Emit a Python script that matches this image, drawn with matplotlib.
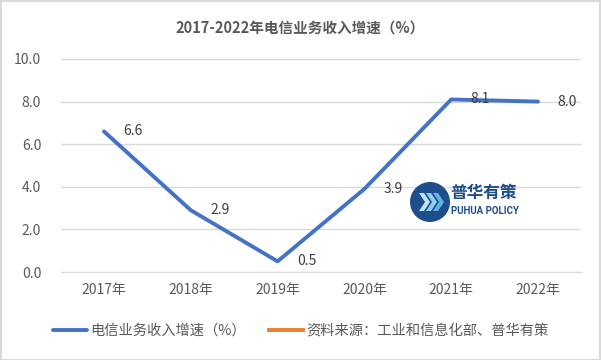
import matplotlib
matplotlib.use("Agg")
import matplotlib.pyplot as plt
from matplotlib.patches import Ellipse, Polygon, Rectangle

plt.rcParams['font.family'] = ['Noto Sans CJK SC', 'DejaVu Sans']

years = ['2017年', '2018年', '2019年', '2020年', '2021年', '2022年']
growth = [6.6, 2.9, 0.5, 3.9, 8.1, 8.0]
yticks = [0, 2, 4, 6, 8, 10]
title = '2017-2022年电信业务收入增速（%）'
series_name = '电信业务收入增速（%）'
source_name = '资料来源：工业和信息化部、普华有策'

W, H = 601, 360
fig = plt.figure(figsize=(W / 100, H / 100), dpi=100)
ax = fig.add_axes([60.6 / W, 1 - 272 / H, (581.4 - 60.6) / W, (272 - 59) / H])

x = list(range(len(years)))
ax.plot(x, growth, color='#4472C4', linewidth=2.8, solid_capstyle='round', zorder=3)
ax.plot([], [], color='#ED7D31', linewidth=2.8)
for xi, v in zip(x, growth):
    ax.annotate(f'{v:.1f}', (xi, v), xytext=(14, 0), textcoords='offset points',
                ha='left', va='center', fontsize=10, color='#404040', zorder=4)

ax.set_xlim(-0.5, len(years) - 0.5)
ax.set_ylim(0, 10)
ax.set_yticks(yticks)
ax.set_yticklabels([f'{t:.1f}' for t in yticks])
ax.set_xticks(x)
ax.set_xticklabels(years)
ax.tick_params(length=0, labelsize=10, labelcolor='#595959', pad=8)
ax.tick_params(axis='y', pad=14)
ax.grid(axis='y', color='#D9D9D9', linewidth=1)
ax.set_axisbelow(True)
for s in ['top', 'right', 'left']:
    ax.spines[s].set_visible(False)
ax.spines['bottom'].set_color('#D9D9D9')

fig.text(0.5, 1 - 28 / H, title, ha='center', va='center', fontsize=10.5,
         fontweight='bold', color='#595959')

handles = ax.get_lines()[:2]
fig.legend(handles, [series_name, source_name], loc='center',
           bbox_to_anchor=(0.5, 1 - 331 / H), ncol=2, frameon=False,
           fontsize=10.3, handlelength=2.4, handletextpad=0.2, columnspacing=1.6,
           labelcolor='#595959')

# watermark logo
cx, cy, r = 430, 202, 20
fig.patches.append(Ellipse((cx / W, 1 - cy / H), 2 * r / W, 2 * r / H,
                           transform=fig.transFigure, facecolor='#1F4E8C',
                           edgecolor='none', zorder=5))
for dx, col in ((-11, '#BFE3F7'), (-4, '#8FCDEF'), (3, '#5FB4E6')):
    pts = [(cx + dx, cy - 9), (cx + dx + 5, cy - 9), (cx + dx + 11, cy),
           (cx + dx + 5, cy + 9), (cx + dx, cy + 9), (cx + dx + 6, cy)]
    fig.patches.append(Polygon([(px / W, 1 - py / H) for px, py in pts],
                               transform=fig.transFigure, facecolor=col,
                               edgecolor='none', zorder=6))
fig.text(450 / W, 1 - 193 / H, '普华有策', ha='left', va='center', fontsize=12,
         fontweight='bold', color='#1F4E8C', zorder=6)
fig.text(451 / W, 1 - 211 / H, 'PUHUA POLICY', ha='left', va='center', fontsize=7,
         fontweight='bold', color='#1F4E8C', family='Roboto', zorder=6)

fig.patches.append(Rectangle((0.5 / W, 0.5 / H), (W - 1.5) / W, (H - 1.5) / H,
                             transform=fig.transFigure, facecolor='none',
                             edgecolor='#D9D9D9', linewidth=1.5))

fig.savefig('out.png', dpi=100)
